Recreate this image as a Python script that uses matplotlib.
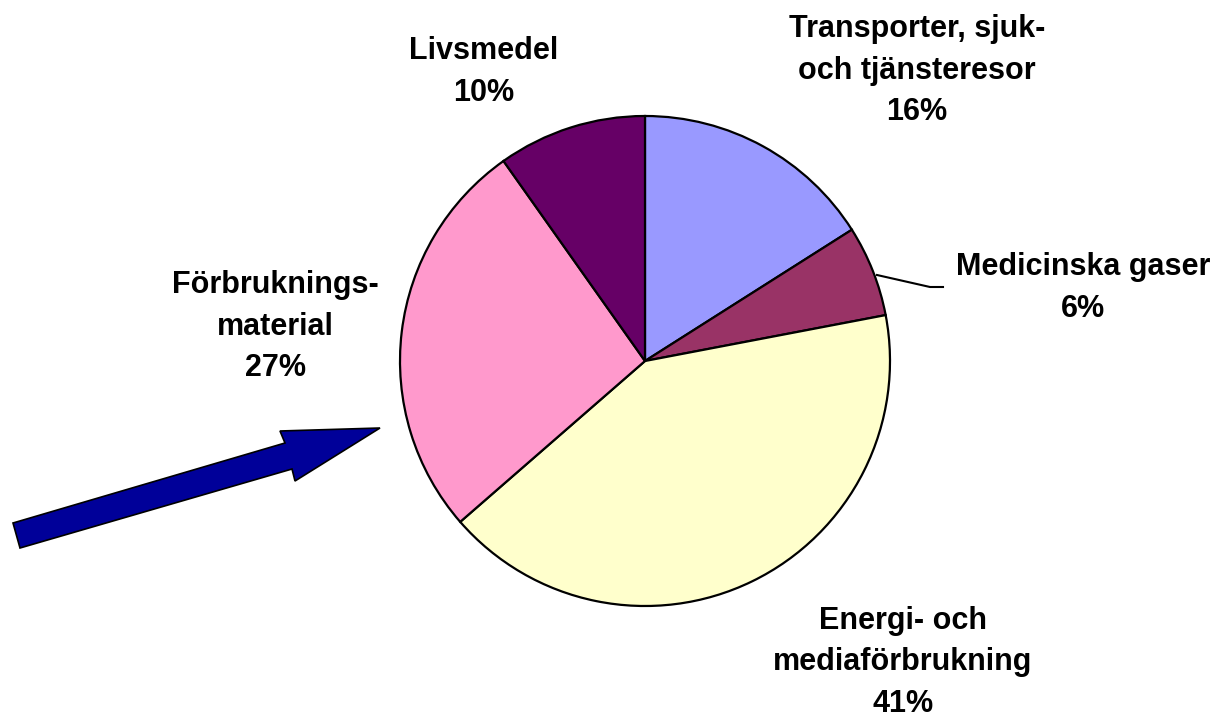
import matplotlib
matplotlib.use("Agg")
import matplotlib.pyplot as plt
from matplotlib.patches import Polygon

categories = ["Transporter, sjuk-\noch tjänsteresor", "Medicinska gaser",
              "Energi- och\nmediaförbrukning", "Förbruknings-\nmaterial", "Livsmedel"]
values = [16.0, 6.0, 41.6, 26.6, 9.8]
pct_labels = ["16%", "6%", "41%", "27%", "10%"]
colors = ["#9999FF", "#993366", "#FFFFCC", "#FF99CC", "#660066"]

W, H = 1228, 718
fig = plt.figure(figsize=(W / 100, H / 100), dpi=100)
ax = fig.add_axes([0, 0, 1, 1])

cx, cy, r = 645, H - 361, 245
ax.pie(values, colors=colors, startangle=90, counterclock=False,
       center=(cx, cy), radius=r, frame=True,
       wedgeprops=dict(edgecolor="black", linewidth=1.6))
ax.set_xlim(0, W)
ax.set_ylim(0, H)
ax.set_aspect("equal")
ax.axis("off")

label_pos = [(917, 71), (1083, 288), (903, 662), (275, 327), (484, 72)]
font = dict(family="Liberation Sans", weight="bold", size=22)
for cat, pct, (x, y) in zip(categories, pct_labels, label_pos):
    ax.text(x, H - y, cat + "\n" + pct, ha="center", va="center",
            linespacing=1.5, **font)

# leader line for Medicinska gaser
ax.plot([877, 930, 943], [H - 275, H - 287, H - 287], color="black", lw=1.5)

# blue block arrow
pts = [(13, 523), (285, 443), (280, 431), (380, 428), (295, 481), (292, 469), (20, 548)]
ax.add_patch(Polygon([(x, H - y) for x, y in pts], closed=True,
                     facecolor="#000099", edgecolor="black", lw=1.2))

fig.savefig("out.png", dpi=100)
